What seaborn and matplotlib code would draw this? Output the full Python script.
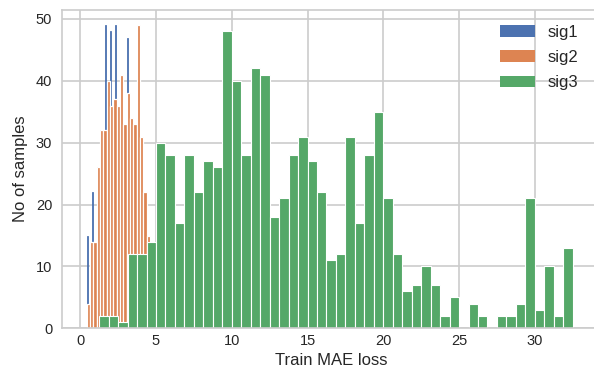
import numpy as np
import pandas as pd
import matplotlib
matplotlib.use("Agg")
import matplotlib.pyplot as plt
import seaborn as sns

# ---- data ----
series_names = ["sig1", "sig2", "sig3"]

# sig1: visible spikes (loss value, count)
sig1_loss = [0.48, 0.81, 1.14, 1.32, 1.67, 2.00, 2.33, 3.15]
sig1_count = [15, 22, 26, 32, 49, 48, 49, 47]
sig1_range = (0.43, 3.24)
sig1_bins = 33

# sig2: histogram counts over its range
sig2_range = (0.43, 4.60)
sig2_count = [4, 14, 14, 26, 32, 32, 40, 36, 37, 36, 41, 33, 38, 34, 33, 49, 31, 22, 15]

# sig3: 50-bin histogram counts
sig3_range = (1.25, 32.50)
sig3_count = [2, 2, 1, 12, 12, 14, 30, 28, 17, 28,
              22, 27, 26, 48, 40, 28, 42, 41, 18, 21,
              28, 31, 27, 22, 11, 12, 31, 17, 28, 35,
              21, 12, 6, 7, 10, 7, 2, 5, 0, 4,
              2, 0, 2, 2, 4, 21, 3, 10, 2, 13]

x_label = "Train MAE loss"
y_label = "No of samples"
x_ticks = [0, 5, 10, 15, 20, 25, 30]
y_ticks = [0, 10, 20, 30, 40, 50]

# ---- style ----
sns.set_theme(style="whitegrid", palette="deep")
plt.rcParams["font.family"] = ["Liberation Sans", "DejaVu Sans"]
plt.rcParams["axes.edgecolor"] = "0.8"
plt.rcParams["grid.color"] = "0.8"
colors = sns.color_palette("deep")


def centers(rng, n):
    edges = np.linspace(rng[0], rng[1], n + 1)
    return (edges[:-1] + edges[1:]) / 2


fig, ax = plt.subplots(figsize=(5.94, 3.67), dpi=100)
ax.set_position([0.1044, 0.1054, 0.9057, 0.8673])

# sig1 (thin spikes)
sns.histplot(x=sig1_loss, weights=sig1_count, bins=sig1_bins, binrange=sig1_range,
             ax=ax, color=colors[0], alpha=1, edgecolor=colors[0], linewidth=0.6,
             label=series_names[0])

# sig2
sns.histplot(x=centers(sig2_range, len(sig2_count)), weights=sig2_count,
             bins=len(sig2_count), binrange=sig2_range, ax=ax,
             color=colors[1], alpha=1, edgecolor="white", linewidth=0.9,
             label=series_names[1])

# sig3
sns.histplot(x=centers(sig3_range, len(sig3_count)), weights=sig3_count,
             bins=len(sig3_count), binrange=sig3_range, ax=ax,
             color=colors[2], alpha=1, edgecolor="white", linewidth=0.8,
             label=series_names[2])

ax.set_xlim(-1.2, 34.3)
ax.set_ylim(0, 51.45)
ax.set_xticks(x_ticks)
ax.set_yticks(y_ticks)
ax.tick_params(axis="both", labelsize=10.5, colors="0.15", length=0)
ax.tick_params(axis="x", pad=4)
ax.tick_params(axis="y", pad=7)
ax.set_xlabel(x_label, fontsize=12, color="0.15", labelpad=4)
ax.set_ylabel(y_label, fontsize=12, color="0.15", labelpad=6)
for s in ax.spines.values():
    s.set_color("0.8")
    s.set_linewidth(1.2)
ax.grid(True, color="0.8", linewidth=1.2)
ax.set_axisbelow(True)

leg = ax.legend(loc="upper left", bbox_to_anchor=(493 / 594, 1 - 18 / 367),
                bbox_transform=fig.transFigure, frameon=False, fontsize=12,
                handlelength=2.1, handletextpad=0.8, labelspacing=0.62,
                borderaxespad=0)
for h in leg.legend_handles:
    h.set_edgecolor("none")
for t in leg.get_texts():
    t.set_color("0.15")

fig.savefig("out.png", dpi=100)
